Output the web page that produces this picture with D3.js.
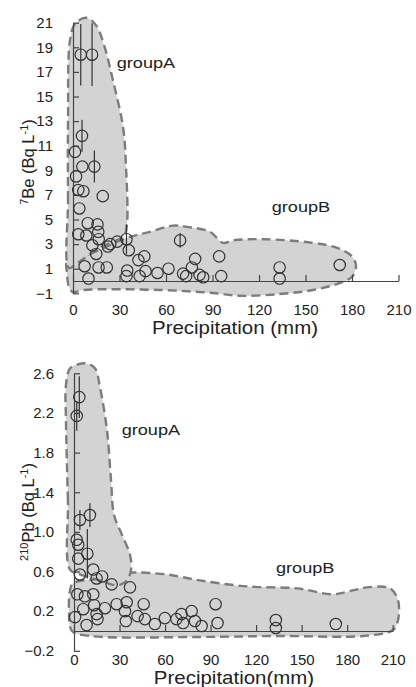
<!DOCTYPE html>
<html>
<head>
<meta charset="utf-8">
<script src="https://cdn.jsdelivr.net/npm/d3@7"></script>
<style>
  body { margin: 0; background: #fff; }
  text { font-family: Arial, "Liberation Sans", sans-serif; fill: #222; }
</style>
</head>
<body>
<div id="chart"></div>
<script>
// tick values
var xTicks = [0, 30, 60, 90, 120, 150, 180, 210];
var beTicks = [-1, 1, 3, 5, 7, 9, 11, 13, 15, 17, 19, 21];
var pbTicks = [-0.2, 0.2, 0.6, 1.0, 1.4, 1.8, 2.2, 2.6];

// 7Be vs precipitation
var beX = [5.0, 12.3, 5.8, 1.3, 6.0, 13.8, 2.0, 3.4, 6.7, 19.2, 4.1, 9.5, 15.8, 16.3, 3.4, 8.6,
           16.6, 12.5, 15.0, 22.5, 24.0, 28.5, 34.5, 36.0, 42.2, 46.0, 7.5, 16.5, 21.8, 10.0,
           35.0, 34.5, 46.8, 43.0, 54.5, 61.6, 69.1, 71.0, 73.0, 78.8, 76.7, 81.6, 84.0, 94.3,
           95.6, 133.3, 133.3, 172.1];
var beY = [18.4, 18.4, 11.8, 10.5, 9.3, 9.3, 8.5, 7.4, 7.3, 6.9, 5.9, 4.7, 4.6, 4.0, 3.8, 3.7,
           3.4, 2.9, 2.2, 2.8, 3.0, 3.2, 3.4, 2.5, 1.7, 2.0, 1.2, 1.1, 1.1, 0.2,
           0.85, 0.4, 0.8, 0.4, 0.65, 1.0, 3.3, 0.6, 0.4, 1.8, 1.1, 0.5, 0.3, 2.0,
           0.4, 1.1, 0.2, 1.3];
var beErr = [2.5, 2.55, 1.3, 0, 0, 1.3, 0, 0, 0, 0, 0, 0, 0, 0, 0, 0,
             0, 0, 0, 0, 0, 0, 1.2, 0, 0, 0, 0, 0, 0, 0,
             0, 0, 0, 0, 0, 0, 0.6, 0, 0, 0, 0, 0, 0, 0,
             0, 0, 0, 0];

// 210Pb vs precipitation
var pbX = [3.5, 1.8, 3.9, 10.5, 1.8, 2.8, 8.8, 2.8, 3.9, 12.7, 14.9, 18.5, 24.8, 36.9, 2.2,
           7.2, 12.7, 6.1, 0.7, 13.3, 14.9, 15.5, 20.4, 8.3, 28.1, 34.7, 33.6, 34.2, 41.9,
           45.9, 46.7, 53.3, 59.9, 67.5, 70.8, 71.9, 77.5, 79.7, 84.1, 93.3, 94.6, 133.0,
           133.0, 172.5];
var pbY = [2.36, 2.17, 1.12, 1.17, 0.92, 0.87, 0.78, 0.73, 0.57, 0.62, 0.53, 0.55, 0.47, 0.44,
           0.37, 0.35, 0.37, 0.22, 0.14, 0.26, 0.17, 0.12, 0.23, 0.06, 0.27, 0.29, 0.20, 0.10,
           0.15, 0.27, 0.12, 0.07, 0.13, 0.12, 0.17, 0.08, 0.20, 0.10, 0.05, 0.27, 0.08, 0.11,
           0.03, 0.07];
var pbErr = [0.21, 0.15, 0.1, 0.12, 0, 0, 0.25, 0, 0, 0, 0, 0, 0, 0,
             0, 0, 0, 0, 0, 0, 0, 0, 0, 0, 0, 0, 0, 0,
             0, 0, 0, 0, 0, 0, 0, 0, 0, 0, 0, 0, 0, 0,
             0, 0];

// hand-drawn outlines of the two groups, [precipitation, activity]
var beGroupA = [[-2.6, 1.06], [-3.2, 6.6], [-3.2, 13.1], [-1.9, 19.6], [1.3, 20.9], [8.4, 21.4],
                [14.8, 20.8], [20, 19.2], [25.8, 16.3], [32.3, 12.5], [34.2, 9.3], [34.8, 4.6],
                [32.9, 3.7], [17.4, 2.7], [3.2, 1.5]];
var beGroupB = [[-3.9, 1.5], [11, 2.2], [34.8, 3.5], [49.7, 4.0], [64.5, 4.5], [73.5, 4.4],
                [88.4, 4.0], [96.8, 3.1], [103.2, 3.3], [122.6, 3.4], [154.8, 3.1], [170.3, 2.7],
                [180, 2.0], [182.6, 1.2], [180, 0.35], [172.3, -0.16], [154.8, -0.73],
                [133.5, -1.06], [107.7, -1.2], [90.3, -0.98], [56.1, -0.73], [6.5, -0.73],
                [0, -0.9], [-2.6, -0.5], [-3.9, 0.7]];
var pbGroupA = [[-2.6, 0.62], [-4.0, 1.32], [-5.3, 2.13], [-5.3, 2.48], [-2.6, 2.65], [2.6, 2.69],
                [7.9, 2.7], [13.8, 2.65], [17.1, 2.46], [21.7, 2.03], [24.4, 1.52], [26.4, 1.17],
                [31.6, 0.97], [36.9, 0.77], [37.6, 0.62], [34.9, 0.51], [29, 0.46], [17.1, 0.51],
                [4, 0.57]];
var pbGroupB = [[-0.7, 0.48], [17.1, 0.53], [38.9, 0.59], [43.5, 0.59], [61.3, 0.57], [83, 0.51],
                [114, 0.45], [147, 0.43], [170.7, 0.37], [183.8, 0.41], [193, 0.44], [208.2, 0.43],
                [213.5, 0.31], [213.5, 0.11], [210.2, 0.01], [190.4, -0.05], [135.7, -0.05],
                [83, -0.06], [10.5, -0.05], [-1.3, 0], [-3.3, 0.21], [-2.6, 0.41]];

var svg = d3.select("#chart")
  .append("svg")
    .attr("width", 416)
    .attr("height", 687);

function drawPanel(p) {
  var g = svg.append("g");

  var x = d3.scaleLinear().domain([0, 210]).range(p.xRange);
  var y = d3.scaleLinear().domain(p.yDomain).range(p.yRange);

  // shaded groups
  var outline = d3.line()
    .x(function(d) { return x(d[0]); })
    .y(function(d) { return y(d[1]); })
    .curve(d3.curveCatmullRomClosed.alpha(0.5));
  [p.groupB, p.groupA].forEach(function(shape) {
    g.append("path")
      .attr("d", outline(shape))
      .attr("fill", "#d3d3d3")
      .attr("stroke", "#7c7c7c")
      .attr("stroke-width", 2.4)
      .attr("stroke-dasharray", "9,5");
  });

  // y axis, ticks pointing inward
  var yAxis = g.append("g")
    .attr("transform", "translate(" + p.xRange[0] + ",0)")
    .call(d3.axisLeft(y).tickValues(p.yTicks).tickFormat(p.yFormat)
      .tickSizeInner(-6).tickSizeOuter(0).tickPadding(20));

  // x axis line sits at zero, labels in a row below
  var xAxis = g.append("g")
    .attr("transform", "translate(0," + y(0) + ")")
    .call(d3.axisTop(x).tickValues(xTicks).tickFormat("").tickSizeInner(6).tickSizeOuter(0));
  var xLabels = g.append("g")
    .attr("transform", "translate(0," + p.labelRow + ")")
    .call(d3.axisBottom(x).tickValues(xTicks).tickSize(0).tickPadding(0));
  xLabels.select(".domain").remove();

  [yAxis, xAxis].forEach(function(a) {
    a.selectAll("path, line").attr("stroke", "#444").attr("stroke-width", 1.2);
  });
  g.selectAll(".tick text")
    .style("font-family", "Arial, 'Liberation Sans', sans-serif")
    .style("font-size", "15px")
    .attr("fill", "#222");

  // error bars
  var idx = d3.range(p.xs.length);
  g.selectAll("line.err")
    .data(idx.filter(function(i) { return p.errs[i] > 0; }))
    .enter()
    .append("line")
      .attr("x1", function(i) { return x(p.xs[i]); })
      .attr("x2", function(i) { return x(p.xs[i]); })
      .attr("y1", function(i) { return y(p.ys[i] - p.errs[i]); })
      .attr("y2", function(i) { return y(p.ys[i] + p.errs[i]); })
      .attr("stroke", "#333")
      .attr("stroke-width", 1.2);

  // samples
  g.selectAll("circle")
    .data(idx)
    .enter()
    .append("circle")
      .attr("cx", function(i) { return x(p.xs[i]); })
      .attr("cy", function(i) { return y(p.ys[i]); })
      .attr("r", 5.7)
      .attr("fill", "none")
      .attr("stroke", "#333")
      .attr("stroke-width", 1.2);

  // group names
  p.labels.forEach(function(l) {
    g.append("text")
      .attr("transform", "translate(" + x(l.x) + "," + y(l.y) + ") scale(1.17,1)")
      .style("font-size", "15.5px")
      .text(l.text);
  });

  // axis titles
  g.append("text")
    .attr("transform", "translate(" + p.xTitlePos[0] + "," + p.xTitlePos[1] + ") scale(1.17,1)")
    .attr("text-anchor", "middle")
    .style("font-size", "17.5px")
    .text(p.xTitle);

  var yt = g.append("text")
    .attr("transform", "translate(" + p.yTitlePos[0] + "," + p.yTitlePos[1] + ") rotate(-90)")
    .attr("text-anchor", "middle")
    .style("font-size", "16.5px");
  yt.append("tspan").attr("dy", -6).style("font-size", "11px").text(p.yIsotope);
  yt.append("tspan").attr("dy", 6).text(p.yName + " (Bq L");
  yt.append("tspan").attr("dy", -6).style("font-size", "11px").text("-1");
  yt.append("tspan").attr("dy", 6).text(")");
}

drawPanel({
  xRange: [73, 398.5], yDomain: [-1, 21], yRange: [293.3, 22.7],
  yTicks: beTicks, yFormat: d3.format("d"), labelRow: 304,
  xs: beX, ys: beY, errs: beErr, groupA: beGroupA, groupB: beGroupB,
  labels: [{text: "groupA", x: 28.2, y: 17.3}, {text: "groupB", x: 128.2, y: 5.6}],
  xTitle: "Precipitation (mm)", xTitlePos: [235, 334],
  yIsotope: "7", yName: "Be", yTitlePos: [34, 162]
});

drawPanel({
  xRange: [74, 392.7], yDomain: [-0.2, 2.6], yRange: [650.8, 373.3],
  yTicks: pbTicks, yFormat: d3.format(".1f"), labelRow: 654,
  xs: pbX, ys: pbY, errs: pbErr, groupA: pbGroupA, groupB: pbGroupB,
  labels: [{text: "groupA", x: 31.4, y: 1.98}, {text: "groupB", x: 133.1, y: 0.59}],
  xTitle: "Precipitation(mm)", xTitlePos: [234, 684],
  yIsotope: "210", yName: "Pb", yTitlePos: [34, 512]
});
</script>
</body>
</html>
